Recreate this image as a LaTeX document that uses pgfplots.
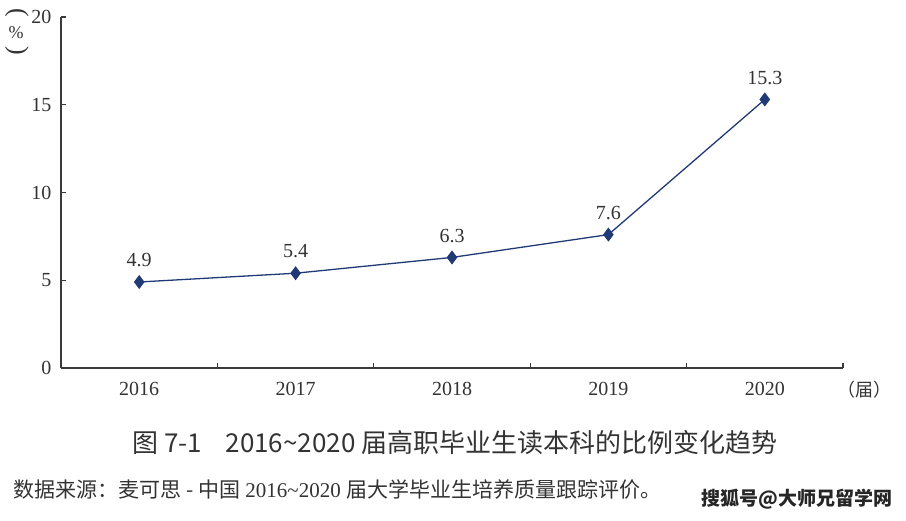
\documentclass[border=0pt]{standalone}
\usepackage{fontspec}
\setmainfont{Liberation Serif}
\newfontfamily\cjk{Noto Sans CJK SC}
\usepackage{graphicx}
\usepackage{pgfplots}
\pgfplotsset{compat=1.18}
\definecolor{axisgray}{HTML}{3A3A3A}
\definecolor{navy}{HTML}{1F3A75}
\definecolor{textgray}{HTML}{333333}
\begin{document}
\begin{tikzpicture}[x=1pt,y=1pt]
\path[use as bounding box] (0,0) rectangle (906,521);
\begin{axis}[
  at={(61pt,153pt)}, anchor=south west,
  scale only axis, width=782pt, height=351pt,
  xmin=-0.5, xmax=4.5, ymin=0, ymax=20,
  axis x line*=bottom, axis y line*=left,
  axis line style={axisgray, line width=1.3pt},
  xtick={0,1,2,3,4},
  xticklabels={2016,2017,2018,2019,2020},
  major x tick style={draw=none},
  minor xtick={0.5,1.5,2.5,3.5,4.5},
  minor x tick style={axisgray, line width=1.1pt},
  minor tick length=5pt,
  ytick={0,5,10,15,20},
  ytick style={axisgray, line width=1.1pt},
  major tick length=5pt,
  tick align=inside,
  ticklabel style={font=\fontsize{20}{22}\selectfont, text=textgray},
  xticklabel style={yshift=-11pt},
  yticklabel style={xshift=-6pt},
  /pgf/number format/assume math mode=true,
  clip=false,
  nodes near coords,
  point meta=explicit symbolic,
  every node near coord/.append style={font=\fontsize{20}{22}\selectfont, text=textgray, yshift=11pt},
]
\addplot[color=navy, line width=1.3pt, mark=diamond*, mark size=6pt, mark options={fill=navy, draw=navy}]
  coordinates {(0,4.9)[4.9] (1,5.4)[5.4] (2,6.3)[6.3] (3,7.6)[7.6] (4,15.3)[15.3]};
\end{axis}
% y unit, vertical: rotated parentheses
\node[text=textgray, font=\fontsize{26}{26}\selectfont, inner sep=0pt] at (17,507) {\rotatebox[origin=c]{-90}{(}};
\node[text=textgray, font=\fontsize{18}{18}\selectfont, inner sep=0pt] at (16,488) {\%};
\node[text=textgray, font=\fontsize{26}{26}\selectfont, inner sep=0pt] at (17,469) {\rotatebox[origin=c]{-90}{)}};
% x unit
\node[text=textgray, font=\cjk\fontsize{18}{20}\selectfont, anchor=west] at (834,131) {（届）};
% title
\node[text=textgray, font=\cjk\fontsize{26}{28}\selectfont] at (455,78) {图 7-1\hspace{0.9em}2016\textasciitilde 2020 届高职毕业生读本科的比例变化趋势};
% source
\node[text=textgray, font=\fontsize{21}{23}\selectfont, anchor=west] at (10,31) {{\cjk 数据来源：麦可思 - 中国} 2016\textasciitilde 2020 {\cjk 届大学毕业生培养质量跟踪评价。}};
% watermark
\node[text=black!85, font=\cjk\bfseries\fontsize{19}{21}\selectfont, anchor=west] at (698,22) {搜狐号@大师兄留学网};
\end{tikzpicture}
\end{document}
